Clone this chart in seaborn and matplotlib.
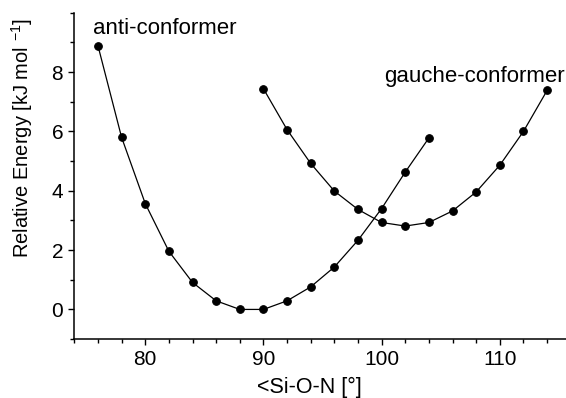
import matplotlib
matplotlib.use('Agg')
import matplotlib.pyplot as plt
import seaborn as sns
import pandas as pd
from matplotlib.ticker import MultipleLocator

# angle scan values
anti_angle = [76, 78, 80, 82, 84, 86, 88, 90, 92, 94, 96, 98, 100, 102, 104]
anti_energy = [8.89, 5.80, 3.57, 1.96, 0.91, 0.29, 0.0, 0.0, 0.29, 0.76, 1.43, 2.33, 3.40, 4.63, 5.78]
gauche_angle = [90, 92, 94, 96, 98, 100, 102, 104, 106, 108, 110, 112, 114]
gauche_energy = [7.44, 6.06, 4.92, 3.99, 3.37, 2.93, 2.81, 2.93, 3.32, 3.96, 4.86, 6.00, 7.38]

df = pd.concat([
    pd.DataFrame({'angle': anti_angle, 'energy': anti_energy, 'conf': 'anti'}),
    pd.DataFrame({'angle': gauche_angle, 'energy': gauche_energy, 'conf': 'gauche'}),
])

sns.set_style('ticks')
plt.rcParams['font.family'] = ['Liberation Sans', 'DejaVu Sans']
plt.rcParams['mathtext.fontset'] = 'custom'
plt.rcParams['mathtext.rm'] = 'Liberation Sans'
plt.rcParams['mathtext.it'] = 'Liberation Sans'
plt.rcParams['text.color'] = 'black'
plt.rcParams['axes.labelcolor'] = 'black'

fig = plt.figure(figsize=(5.66, 3.98), dpi=100)
ax = fig.add_axes([0.1313, 0.148, 0.8687, 0.82])
sns.lineplot(data=df, x='angle', y='energy', units='conf', estimator=None,
             color='black', linewidth=0.9, marker='o', markersize=5.5,
             markeredgecolor='black', ax=ax, sort=False)

ax.set_xlim(74, 115.6)
ax.set_ylim(-1, 10)
ax.xaxis.set_major_locator(MultipleLocator(10))
ax.xaxis.set_minor_locator(MultipleLocator(2))
ax.yaxis.set_minor_locator(MultipleLocator(1))
ax.set_yticks([0, 2, 4, 6, 8])
ax.tick_params(which='major', length=4.5, width=1, labelsize=15, direction='out', colors='black')
ax.tick_params(which='minor', length=3, width=1, direction='out', colors='black')
for s in ['top', 'right']:
    ax.spines[s].set_visible(False)
for s in ['left', 'bottom']:
    ax.spines[s].set_linewidth(1.1)
    ax.spines[s].set_color('black')

ax.set_xlabel('<Si-O-N [°]', fontsize=15.5, labelpad=4)
ax.xaxis.set_label_coords(0.479, -0.115)
ax.set_ylabel('Relative Energy [kJ mol $^{\\mathrm{-1}}$]', fontsize=14.5)
ax.yaxis.set_label_coords(-0.079, 0.617)
ax.text(75.6, 9.3, 'anti-conformer', fontsize=16)
ax.text(100.2, 7.66, 'gauche-conformer', fontsize=16)

fig.savefig('out.png', dpi=100)
